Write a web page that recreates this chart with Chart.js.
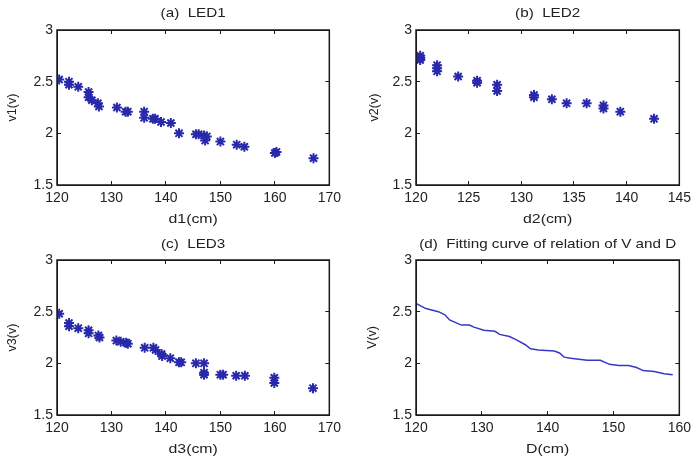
<!DOCTYPE html>
<html>
<head>
<meta charset="utf-8">
<script src="https://cdn.jsdelivr.net/npm/chart.js@4"></script>
<style>
  html, body { margin: 0; padding: 0; background: #fff; }
  #wrap { position: relative; width: 700px; height: 463px; overflow: hidden; }
  .panel { position: absolute; }
</style>
</head>
<body>
<div id="wrap">
  <div class="panel" style="left:0;top:0;width:350px;height:231px"><canvas id="chartA"></canvas></div>
  <div class="panel" style="left:350px;top:0;width:350px;height:231px"><canvas id="chartB"></canvas></div>
  <div class="panel" style="left:0;top:231px;width:350px;height:232px"><canvas id="chartC"></canvas></div>
  <div class="panel" style="left:350px;top:231px;width:350px;height:232px"><canvas id="chartD"></canvas></div>
</div>
<script>
// (a) LED1
const led1D = [120.4, 122.2, 122.2, 123.9, 125.8, 125.8, 126.4, 127.5, 127.7, 131.0, 132.6, 133.0, 136.0, 136.0, 137.6, 138.0, 139.1, 140.9, 142.4, 145.5, 146.0, 147.0, 147.2, 147.5, 150.0, 153.0, 154.4, 160.0, 160.3, 167.1];
const led1V = [2.52, 2.50, 2.47, 2.45, 2.40, 2.35, 2.32, 2.29, 2.26, 2.25, 2.21, 2.21, 2.21, 2.15, 2.14, 2.14, 2.11, 2.10, 2.00, 1.99, 1.99, 1.98, 1.93, 1.97, 1.92, 1.89, 1.87, 1.81, 1.82, 1.76];

// (b) LED2
const led2D = [120.4, 120.4, 120.4, 122.0, 122.0, 122.0, 124.0, 125.8, 125.8, 127.7, 127.7, 131.2, 131.2, 132.9, 134.3, 136.2, 137.8, 137.8, 139.4, 142.6];
const led2V = [2.75, 2.73, 2.71, 2.66, 2.63, 2.60, 2.55, 2.51, 2.49, 2.47, 2.41, 2.37, 2.35, 2.33, 2.29, 2.29, 2.27, 2.24, 2.21, 2.14];

// (c) LED3
const led3D = [120.4, 122.2, 122.2, 123.9, 125.8, 125.8, 127.6, 127.8, 130.9, 131.7, 132.7, 133.0, 136.1, 137.7, 138.1, 139.2, 139.3, 140.8, 142.4, 142.8, 145.5, 147.0, 147.0, 147.0, 150.0, 150.5, 152.9, 154.5, 159.9, 159.9, 167.0];
const led3V = [2.48, 2.39, 2.36, 2.34, 2.32, 2.29, 2.27, 2.25, 2.22, 2.21, 2.20, 2.19, 2.15, 2.15, 2.13, 2.09, 2.07, 2.05, 2.01, 2.01, 2.00, 2.00, 1.91, 1.89, 1.89, 1.89, 1.88, 1.88, 1.86, 1.81, 1.76];

// (d) fitting curve
const fitD = [120.0, 121.5, 123.4, 124.4, 125.1, 126.9, 128.1, 128.8, 130.3, 132.0, 132.7, 134.2, 135.2, 136.6, 137.4, 138.6, 141.0, 141.8, 142.5, 143.5, 146.0, 148.0, 149.4, 150.8, 152.3, 153.5, 154.5, 156.2, 157.7, 159.0];
const fitV = [2.58, 2.53, 2.50, 2.47, 2.42, 2.37, 2.37, 2.35, 2.32, 2.31, 2.28, 2.26, 2.23, 2.18, 2.14, 2.13, 2.12, 2.10, 2.06, 2.05, 2.03, 2.03, 1.99, 1.98, 1.98, 1.96, 1.93, 1.92, 1.90, 1.89];

// tick labels
const vTicks = [1.5, 2, 2.5, 3];
const dTicksWide = [120, 130, 140, 150, 160, 170];
const dTicksB = [120, 125, 130, 135, 140, 145];
const dTicksD = [120, 130, 140, 150, 160];

const markColor = 'rgb(40,40,170)';
const lineColor = 'rgb(55,55,200)';
const textColor = '#222';
const frameColor = '#1a1a1a';
const fontFam = '"Liberation Sans", Arial, sans-serif';

// title, axis labels and the axes frame
const labelPlugin = {
  id: 'labels',
  afterDraw(chart, args, opts) {
    const { ctx, chartArea: a } = chart;
    const cx = (a.left + a.right) / 2;
    const cy = (a.top + a.bottom) / 2;
    ctx.save();
    ctx.strokeStyle = frameColor;
    ctx.lineWidth = 1.5;
    ctx.beginPath();
    ctx.rect(a.left, a.top, a.right - a.left, a.bottom - a.top);
    ctx.stroke();

    ctx.fillStyle = textColor;
    ctx.textAlign = 'center';
    ctx.textBaseline = 'middle';

    ctx.save();
    ctx.font = '13px ' + fontFam;
    ctx.translate(cx, opts.titleY);
    ctx.scale(1.17, 1);
    ctx.fillText(opts.title, 0, 0);
    ctx.restore();

    ctx.save();
    ctx.font = '13px ' + fontFam;
    ctx.translate(cx, opts.xLabelY);
    ctx.scale(1.22, 1);
    ctx.fillText(opts.xLabel, 0, 0);
    ctx.restore();

    ctx.save();
    ctx.font = '12.5px ' + fontFam;
    ctx.translate(opts.yLabelX, cy);
    ctx.rotate(-Math.PI / 2);
    ctx.fillText(opts.yLabel, 0, 0);
    ctx.restore();

    ctx.restore();
  }
};

// frame edge: axis with 4px ticks pointing into the plot
function frameEdge(extra) {
  return Object.assign({
    type: 'linear',
    border: { display: true, color: frameColor, width: 1 },
    grid: { display: true, drawOnChartArea: false, drawTicks: true, tickLength: -4, color: frameColor, lineWidth: 1 }
  }, extra);
}

function makePanel(id, cfg) {
  const isLine = !!cfg.line;
  const pts = cfg.xs.map((x, i) => ({ x: x, y: cfg.ys[i] }));
  const xMin = cfg.xTicks[0], xMax = cfg.xTicks[cfg.xTicks.length - 1];
  const setX = s => { s.ticks = cfg.xTicks.map(v => ({ value: v })); };
  const setY = s => { s.ticks = vTicks.map(v => ({ value: v })); };
  new Chart(document.getElementById(id), {
    type: 'scatter',
    data: {
      datasets: [{
        data: pts,
        showLine: isLine,
        borderColor: isLine ? lineColor : markColor,
        backgroundColor: markColor,
        borderWidth: isLine ? 1.5 : 2,
        pointStyle: isLine ? false : 'star',
        pointRadius: isLine ? 0 : 5,
        tension: 0
      }]
    },
    options: {
      responsive: true,
      maintainAspectRatio: false,
      animation: false,
      layout: { padding: cfg.pad },
      plugins: {
        legend: { display: false },
        tooltip: { enabled: false },
        labels: {
          title: cfg.title, titleY: 13,
          xLabel: cfg.xLabel, xLabelY: cfg.xLabelY,
          yLabel: cfg.yLabel, yLabelX: cfg.yLabelX
        }
      },
      scales: {
        x: frameEdge({
          position: 'bottom', min: xMin, max: xMax,
          afterBuildTicks: setX,
          afterFit: s => { s.height = cfg.xh; },
          ticks: { padding: 9, color: textColor, font: { size: 14, family: fontFam }, maxRotation: 0, callback: v => String(v) }
        }),
        y: frameEdge({
          position: 'left', min: 1.5, max: 3,
          afterBuildTicks: setY,
          afterFit: s => { s.width = cfg.yw; },
          ticks: { padding: 8, color: textColor, font: { size: 14, family: fontFam }, callback: v => String(v) }
        }),
        xTop: frameEdge({
          position: 'top', min: xMin, max: xMax,
          afterBuildTicks: setX,
          afterFit: s => { s.height = 0; },
          ticks: { display: false }
        }),
        yRight: frameEdge({
          position: 'right', min: 1.5, max: 3,
          afterBuildTicks: setY,
          afterFit: s => { s.width = 0; },
          ticks: { display: false }
        })
      }
    },
    plugins: [labelPlugin]
  });
}

makePanel('chartA', {
  xs: led1D, ys: led1V, xTicks: dTicksWide, title: '(a)  LED1',
  xLabel: 'd1(cm)', yLabel: 'v1(v)', xLabelY: 219, yLabelX: 13,
  pad: { top: 30, right: 19, left: 0, bottom: 0 }, yw: 57, xh: 46
});
makePanel('chartB', {
  xs: led2D, ys: led2V, xTicks: dTicksB, title: '(b)  LED2',
  xLabel: 'd2(cm)', yLabel: 'v2(v)', xLabelY: 219, yLabelX: 25,
  pad: { top: 30, right: 11, left: 0, bottom: 0 }, yw: 66, xh: 46
});
makePanel('chartC', {
  xs: led3D, ys: led3V, xTicks: dTicksWide, title: '(c)  LED3',
  xLabel: 'd3(cm)', yLabel: 'v3(v)', xLabelY: 218, yLabelX: 13,
  pad: { top: 29, right: 19, left: 0, bottom: 0 }, yw: 57, xh: 48
});
makePanel('chartD', {
  xs: fitD, ys: fitV, xTicks: dTicksD, line: true,
  title: '(d)  Fitting curve of relation of V and D',
  xLabel: 'D(cm)', yLabel: 'V(v)', xLabelY: 218, yLabelX: 23,
  pad: { top: 29, right: 12, left: 0, bottom: 0 }, yw: 66, xh: 48
});
</script>
</body>
</html>
